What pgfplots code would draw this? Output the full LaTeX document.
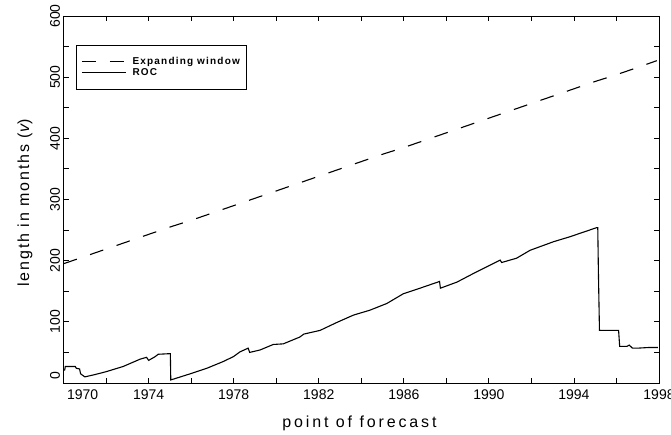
\documentclass[border=0pt]{standalone}
\usepackage{fontspec}
\setmainfont{Liberation Sans}
\newfontfamily\spacedfont[LetterSpace=12]{Liberation Sans}
\newfontfamily\widefont[LetterSpace=18]{Liberation Sans}
\usepackage{pgfplots}
\pgfplotsset{compat=1.18}
\begin{document}
\begin{tikzpicture}
\begin{axis}[
  at={(0pt,0pt)}, anchor=south west,
  scale only axis, width=595.4pt, height=367pt,
  xmin=1970, xmax=1998, ymin=0, ymax=600,
  xtick={1974,1978,...,1998},
  minor xtick={1972,1976,...,1996},
  extra x ticks={1970},
  extra x tick style={xticklabel style={anchor=north west}},
  ytick={100,200,...,600},
  minor ytick={50,150,...,550},
  extra y ticks={0},
  extra y tick style={yticklabel style={anchor=south west}},
  tick align=inside,
  major tick length=5pt, minor tick length=5pt,
  tick style={black, line width=0.9pt},
  axis line style={line width=0.9pt},
  /pgf/number format/assume math mode=true,
  x tick label style={/pgf/number format/1000 sep={}, font=\fontsize{14}{14}\selectfont, yshift=-3pt},
  y tick label style={rotate=90, anchor=south, font=\fontsize{14}{14}\selectfont},
  xlabel={point of forecast},
  ylabel={length in months ({\itshape v})},
  xlabel style={at={(axis description cs:0.497,-0.1199)}, anchor=base, font=\widefont\fontsize{16}{16}\selectfont},
  ylabel style={at={(axis description cs:-0.0581,0.49)}, anchor=base, font=\spacedfont\fontsize{16}{16}\selectfont},
  legend style={at={(axis description cs:0.0208,0.921)}, anchor=north west,
    draw=black, line width=0.9pt, inner xsep=5pt, inner ysep=11pt,
    font=\spacedfont\bfseries\fontsize{10}{10}\selectfont,
    nodes={inner sep=2pt, text height=6pt, text depth=1pt},
    column sep=4pt, row sep=0pt},
  legend cell align=left,
  legend image code/.code={\draw[#1] (0pt,0pt) -- (44pt,0pt);},
]
\addplot[black, line width=1.1pt, dash pattern=on 14pt off 14pt] coordinates {
(1970,195) (1971,207) (1972,219) (1973,231) (1974,243) (1975,255) (1976,266)
(1977,278) (1978,290) (1979,302) (1980,314) (1981,326) (1982,338) (1983,350)
(1984,362) (1985,374) (1986,385) (1987,397) (1988,409) (1989,421) (1990,433)
(1991,445) (1992,457) (1993,469) (1994,481) (1995,493) (1996,504) (1997,516)
(1997.9,527)
};
\addlegendentry{Expanding window}
\addplot[black, line width=1.1pt] coordinates {
(1970.00,21) (1970.05,21) (1970.08,27) (1970.55,27) (1970.6,24) (1970.75,23)
(1970.8,15) (1971.0,10) (1971.5,14) (1972.0,18.5) (1972.8,27) (1973.6,39)
(1973.9,42) (1974.0,37) (1974.3,43) (1974.45,47) (1975.02,48) (1975.04,5)
(1975.95,15) (1976.73,24) (1977.5,35) (1977.98,43) (1978.3,51) (1978.68,57)
(1978.75,50) (1979.24,54) (1979.86,63) (1980.33,64) (1981.1,75) (1981.3,80)
(1982.06,86) (1982.85,99) (1983.63,111) (1984.4,119) (1985.2,130) (1985.98,146)
(1986.76,155) (1987.68,166) (1987.72,155) (1988.5,165) (1989.27,179) (1989.9,190)
(1990.53,201) (1990.6,197) (1991.3,204) (1991.94,217) (1993.04,231) (1993.8,239)
(1995.07,254) (1995.12,254) (1995.15,182) (1995.2,86) (1995.6,86) (1996.1,86)
(1996.15,60) (1996.5,60) (1996.6,62) (1996.75,57) (1997.0,57) (1997.5,58) (1997.95,58)
};
\addlegendentry{ROC}
\end{axis}
\pgfresetboundingbox
\path (-63.6pt,-51pt) rectangle (607.4pt,383pt);
\end{tikzpicture}
\end{document}
